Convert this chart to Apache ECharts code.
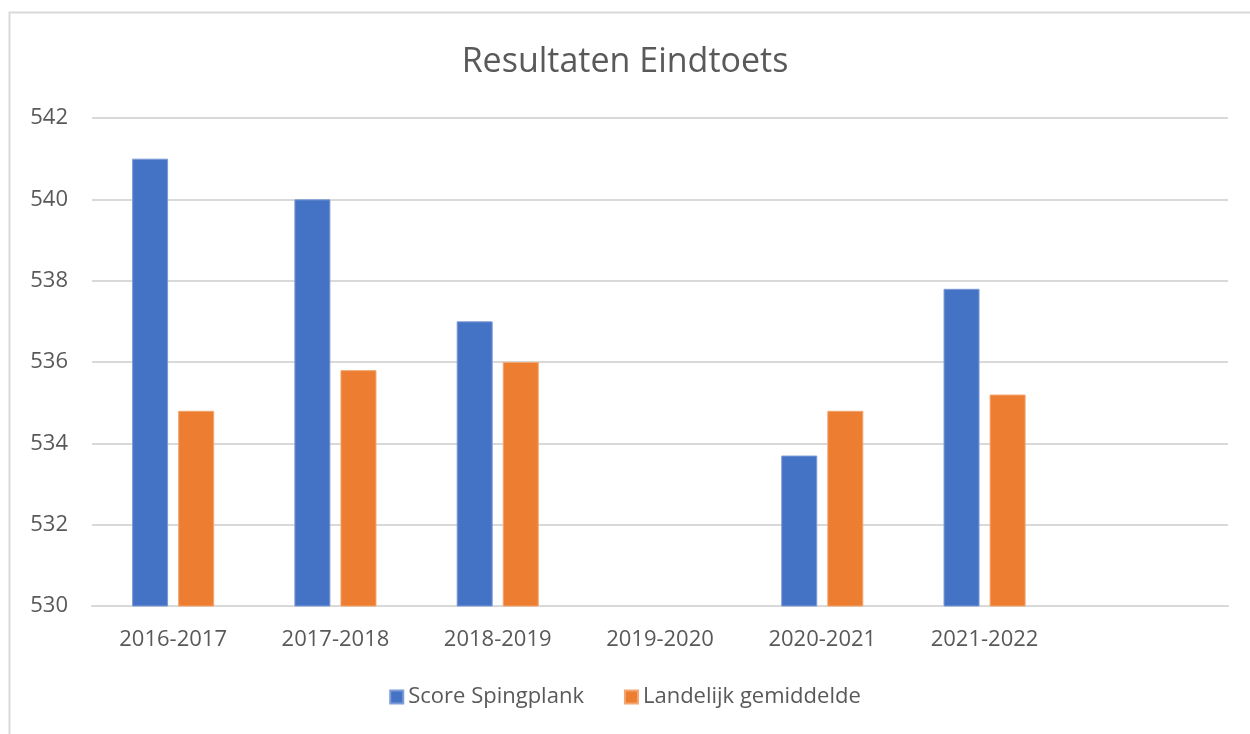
<!DOCTYPE html>
<html lang="nl">
<head>
    <meta charset="UTF-8">
    <title>Resultaten Eindtoets</title>
    <script src="https://cdn.jsdelivr.net/npm/echarts@6/dist/echarts.min.js"></script>
    <style>
        html, body { margin: 0; padding: 0; background: #fff; }
        #main { width: 1250px; height: 734px; }
    </style>
</head>
<body>
    <div id="main"></div>

    <script>
        // Schooljaren (laatste categorie is leeg, zoals in het origineel)
        var schooljaren = ['2016-2017', '2017-2018', '2018-2019', '2019-2020', '2020-2021', '2021-2022', ''];
        var scoreSpingplank = [541, 540, 537, null, 533.7, 537.8, null];
        var landelijkGemiddelde = [534.8, 535.8, 536, null, 534.8, 535.2, null];

        var tekstKleur = '#595959';
        var lijnKleur = '#d9d9d9';
        var font = '"Open Sans", "Liberation Sans", sans-serif';

        var myChart = echarts.init(document.getElementById('main'));

        var option = {
            animation: false,
            textStyle: { fontFamily: font },
            graphic: [{
                type: 'rect',
                shape: { x: 9.5, y: 12.5, width: 1300, height: 800 },
                style: { fill: 'none', stroke: lijnKleur, lineWidth: 2 },
                silent: true
            }],
            title: {
                text: 'Resultaten Eindtoets',
                left: 'center',
                top: 40,
                textStyle: { color: tekstKleur, fontSize: 34, fontWeight: 'normal', fontFamily: font }
            },
            legend: {
                bottom: 21,
                left: 'center',
                itemWidth: 13,
                itemHeight: 13,
                itemGap: 40,
                icon: 'rect',
                textStyle: { color: tekstKleur, fontSize: 22, fontFamily: font }
            },
            grid: { left: 92, right: 22, top: 118, bottom: 128 },
            xAxis: {
                type: 'category',
                data: schooljaren,
                axisLine: { lineStyle: { color: lijnKleur, width: 2 } },
                axisTick: { show: false },
                axisLabel: { color: tekstKleur, fontSize: 22, margin: 23, fontFamily: font }
            },
            yAxis: {
                type: 'value',
                min: 530,
                max: 542,
                interval: 2,
                axisLine: { show: false },
                axisTick: { show: false },
                splitLine: { lineStyle: { color: lijnKleur, width: 2 } },
                axisLabel: { color: tekstKleur, fontSize: 22, margin: 24, fontFamily: font }
            },
            series: [
                {
                    name: 'Score Spingplank',
                    type: 'bar',
                    data: scoreSpingplank,
                    barWidth: 36,
                    barGap: '28%',
                    itemStyle: { color: '#4472c4', borderColor: '#7d9bd6', borderWidth: 1 }
                },
                {
                    name: 'Landelijk gemiddelde',
                    type: 'bar',
                    data: landelijkGemiddelde,
                    barWidth: 36,
                    itemStyle: { color: '#ed7d31', borderColor: '#f3a66f', borderWidth: 1 }
                }
            ]
        };

        myChart.setOption(option);
    </script>
</body>
</html>
